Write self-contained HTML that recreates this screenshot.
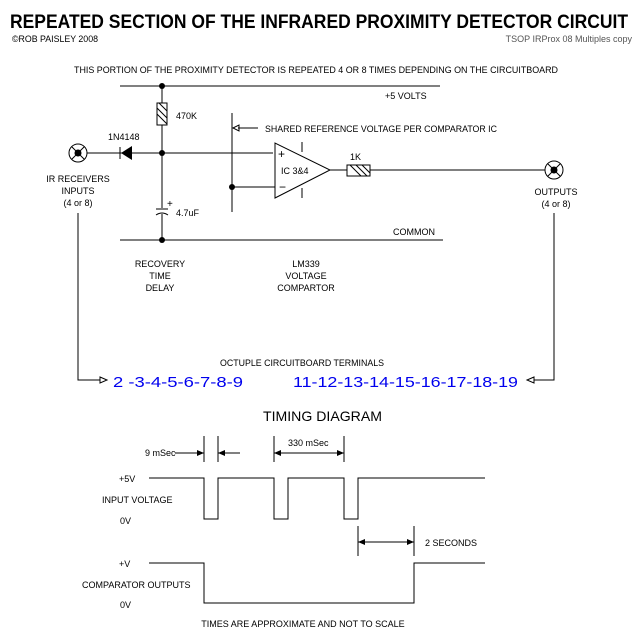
<!DOCTYPE html>
<html><head><meta charset="utf-8"><style>
html,body{margin:0;padding:0;background:#fff;}
svg{display:block;}
text{font-family:"Liberation Sans",sans-serif;font-size:10px;fill:#000;}
</style></head><body>
<svg width="644" height="638" viewBox="0 0 644 638" xmlns="http://www.w3.org/2000/svg">
<g stroke="#000" stroke-width="1" fill="none">
<line x1="120" y1="86" x2="440" y2="86"/>
<line x1="120" y1="240" x2="443" y2="240"/>
<line x1="162" y1="86" x2="162" y2="103"/>
<rect x="157" y="103" width="10" height="22"/>
<line x1="157" y1="108" x2="167" y2="118"/><line x1="157" y1="114" x2="167" y2="124"/><line x1="159" y1="103" x2="167" y2="111"/>
<line x1="162" y1="125" x2="162" y2="208"/>
<line x1="162" y1="214" x2="162" y2="240"/>
<line x1="156" y1="209" x2="168" y2="209"/>
<path d="M156 215 Q162 211 168 215"/>
<circle cx="78" cy="153" r="9"/>
<line x1="72" y1="147" x2="84" y2="159"/><line x1="84" y1="147" x2="72" y2="159"/>
<line x1="87" y1="153" x2="273" y2="153"/>
<line x1="120" y1="147" x2="120" y2="159"/>
<line x1="232" y1="113" x2="232" y2="212"/>
<line x1="232" y1="187" x2="275" y2="187"/>
<line x1="238" y1="128" x2="258" y2="128"/>
<path d="M233 128 L239 125 L239 131 Z"/>
<path d="M275 143 L275 198 L330 170 Z"/>
<line x1="302" y1="142" x2="302" y2="152"/>
<line x1="302" y1="188" x2="302" y2="198"/>
<line x1="330" y1="170" x2="347" y2="170"/>
<rect x="347" y="165" width="23" height="11"/>
<line x1="350" y1="165" x2="361" y2="176"/><line x1="356" y1="165" x2="367" y2="176"/><line x1="362" y1="165" x2="370" y2="173"/>
<line x1="370" y1="170" x2="545" y2="170"/>
<circle cx="554" cy="170" r="9"/>
<line x1="548" y1="164" x2="560" y2="176"/><line x1="560" y1="164" x2="548" y2="176"/>
<polyline points="78,213 78,380 100,380"/>
<path d="M100 377 L107 380 L100 383 Z"/>
<polyline points="554,213 554,380 534,380"/>
<path d="M534 377 L527 380 L534 383 Z"/>
<polyline points="149,478 204,478 204,519 218,519 218,478 274,478 274,519 288,519 288,478 344,478 344,519 358,519 358,478 485,478"/>
<polyline points="149,563 204,563 204,603 414,603 414,563 485,563"/>
<line x1="204" y1="436" x2="204" y2="462"/><line x1="218" y1="436" x2="218" y2="462"/>
<line x1="175" y1="453" x2="204" y2="453"/><line x1="218" y1="453" x2="240" y2="453"/>
<line x1="274" y1="436" x2="274" y2="462"/><line x1="344" y1="436" x2="344" y2="462"/>
<line x1="274" y1="453" x2="344" y2="453"/>
<line x1="358" y1="526" x2="358" y2="556"/><line x1="414" y1="526" x2="414" y2="556"/>
<line x1="358" y1="542" x2="414" y2="542"/>
</g>
<g fill="#000">
<circle cx="162" cy="86" r="3"/><circle cx="162" cy="153" r="3"/><circle cx="162" cy="240" r="3"/><circle cx="232" cy="187" r="3"/>
<circle cx="78" cy="153" r="3.5"/><circle cx="554" cy="170" r="3.5"/>
<path d="M132 146 L132 160 L121 153 Z"/>
<path d="M197 450 L204 453 L197 456 Z"/><path d="M225 450 L218 453 L225 456 Z"/>
<path d="M281 450 L274 453 L281 456 Z"/><path d="M337 450 L344 453 L337 456 Z"/>
<path d="M365 539 L358 542 L365 545 Z"/><path d="M407 539 L414 542 L407 545 Z"/>
</g>
<text x="10" y="28" style="font-size:19px;font-weight:bold" textLength="618" lengthAdjust="spacingAndGlyphs">REPEATED SECTION OF THE INFRARED PROXIMITY DETECTOR CIRCUIT</text>
<text x="12" y="42" style="font-size:9px" textLength="86" lengthAdjust="spacingAndGlyphs">©ROB PAISLEY 2008</text>
<text x="632" y="42" text-anchor="end" style="font-size:9px;fill:#555">TSOP IRProx 08 Multiples copy</text>
<text x="74" y="73" textLength="484" lengthAdjust="spacingAndGlyphs" style="font-size:9px">THIS PORTION OF THE  PROXIMITY DETECTOR IS REPEATED 4 OR 8 TIMES DEPENDING ON THE CIRCUITBOARD</text>
<text x="385" y="99" style="font-size:9px">+5 VOLTS</text>
<text x="176" y="119" style="font-size:9px">470K</text>
<text x="108" y="140" style="font-size:9px">1N4148</text>
<text x="265" y="132" style="font-size:9px" textLength="232" lengthAdjust="spacingAndGlyphs">SHARED REFERENCE VOLTAGE PER COMPARATOR IC</text>
<text x="278" y="158" style="font-size:12px">+</text>
<text x="279" y="191" style="font-size:12px">−</text>
<text x="281" y="174" style="font-size:9px">IC 3&amp;4</text>
<text x="350" y="160" style="font-size:9px">1K</text>
<text x="167" y="207" style="font-size:10px">+</text>
<text x="176" y="216" style="font-size:9px">4.7uF</text>
<text x="393" y="235" style="font-size:9px">COMMON</text>
<g text-anchor="middle" style="font-size:9px">
<text x="78" y="182" style="font-size:9px">IR RECEIVERS</text>
<text x="78" y="194" style="font-size:9px">INPUTS</text>
<text x="78" y="206" style="font-size:9px">(4 or 8)</text>
<text x="556" y="195" style="font-size:9px">OUTPUTS</text>
<text x="556" y="207" style="font-size:9px">(4 or 8)</text>
<text x="160" y="267" style="font-size:9px">RECOVERY</text>
<text x="160" y="279" style="font-size:9px">TIME</text>
<text x="160" y="291" style="font-size:9px">DELAY</text>
<text x="306" y="267" style="font-size:9px">LM339</text>
<text x="306" y="279" style="font-size:9px">VOLTAGE</text>
<text x="306" y="291" style="font-size:9px">COMPARTOR</text>
<text x="303" y="627" style="font-size:9px">TIMES ARE APPROXIMATE AND NOT TO SCALE</text>
</g>
<text x="220" y="366" style="font-size:9px" textLength="164" lengthAdjust="spacingAndGlyphs">OCTUPLE CIRCUITBOARD TERMINALS</text>
<text x="113" y="387" style="font-size:15px;fill:#0000ee" textLength="130" lengthAdjust="spacingAndGlyphs">2 -3-4-5-6-7-8-9</text>
<text x="293" y="387" style="font-size:15px;fill:#0000ee" textLength="225" lengthAdjust="spacingAndGlyphs">11-12-13-14-15-16-17-18-19</text>
<text x="263" y="421" style="font-size:14px" textLength="119" lengthAdjust="spacingAndGlyphs">TIMING DIAGRAM</text>
<text x="145" y="456" style="font-size:9px">9 mSec</text>
<text x="288" y="446" style="font-size:9px">330 mSec</text>
<text x="425" y="546" style="font-size:9px">2 SECONDS</text>
<text x="119" y="482" style="font-size:9px">+5V</text>
<text x="102" y="503" style="font-size:9px">INPUT VOLTAGE</text>
<text x="120" y="524" style="font-size:9px">0V</text>
<text x="119" y="567" style="font-size:9px">+V</text>
<text x="82" y="588" style="font-size:9px">COMPARATOR OUTPUTS</text>
<text x="120" y="608" style="font-size:9px">0V</text>
</svg>
</body></html>
